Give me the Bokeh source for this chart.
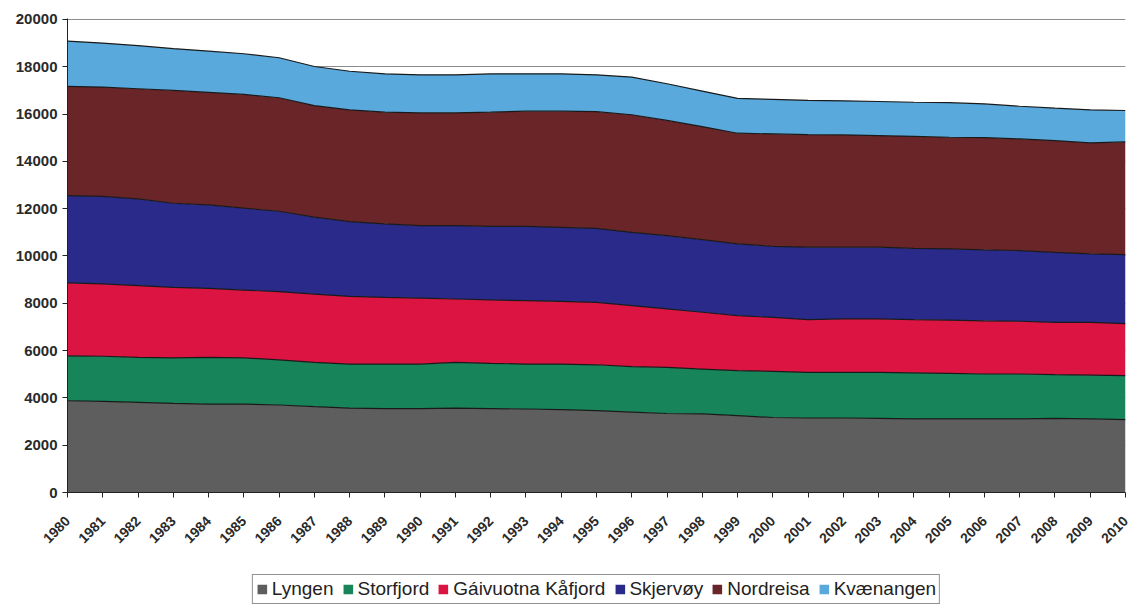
from math import pi
from bokeh.plotting import figure
from bokeh.layouts import column
from bokeh.models import ColumnDataSource, Legend, LegendItem, FixedTicker, Range1d
from bokeh.transform import stack
from bokeh.embed import file_html
from bokeh.resources import INLINE

years = list(range(1980, 2011))
series_names = ["Lyngen", "Storfjord", "Gáivuotna Kåfjord", "Skjervøy", "Nordreisa", "Kvænangen"]

lyngen = [3880, 3850, 3810, 3770, 3740, 3740, 3700, 3630, 3570, 3550, 3550, 3570, 3550, 3530, 3500, 3460,
          3400, 3340, 3320, 3250, 3170, 3150, 3150, 3130, 3110, 3110, 3110, 3110, 3130, 3110, 3080]
storfjord = [1900, 1910, 1900, 1920, 1970, 1950, 1910, 1870, 1860, 1880, 1880, 1930, 1910, 1900, 1930, 1940,
             1920, 1950, 1900, 1900, 1950, 1930, 1930, 1950, 1950, 1930, 1900, 1900, 1850, 1850, 1860]
kafjord = [3080, 3060, 3040, 2980, 2920, 2870, 2880, 2890, 2860, 2820, 2790, 2680, 2680, 2680, 2650, 2640,
           2580, 2470, 2400, 2330, 2280, 2230, 2260, 2260, 2250, 2250, 2250, 2230, 2210, 2230, 2200]
skjervoy = [3690, 3700, 3660, 3560, 3530, 3460, 3400, 3250, 3160, 3110, 3060, 3100, 3110, 3140, 3130, 3130,
            3100, 3100, 3070, 3030, 3010, 3060, 3030, 3030, 3010, 3010, 3000, 2990, 2960, 2900, 2920]
nordreisa = [4620, 4620, 4660, 4770, 4760, 4810, 4800, 4720, 4730, 4720, 4770, 4770, 4830, 4870, 4910, 4930,
             4970, 4870, 4780, 4680, 4750, 4760, 4750, 4720, 4740, 4720, 4740, 4720, 4730, 4690, 4760]
kvaenangen = [1910, 1860, 1820, 1770, 1740, 1720, 1690, 1650, 1630, 1620, 1610, 1610, 1620, 1580, 1580, 1560,
              1590, 1550, 1500, 1470, 1460, 1450, 1440, 1440, 1440, 1460, 1430, 1380, 1370, 1400, 1330]

y_ticks = list(range(0, 20001, 2000))
colors = ["#5e5e5e", "#17845a", "#dc1442", "#292a8a", "#6a2528", "#5aa9dd"]
keys = ["lyngen", "storfjord", "kafjord", "skjervoy", "nordreisa", "kvaenangen"]

src = ColumnDataSource(dict(year=years, lyngen=lyngen, storfjord=storfjord, kafjord=kafjord,
                            skjervoy=skjervoy, nordreisa=nordreisa, kvaenangen=kvaenangen))

# ---- main chart ----
p = figure(width=1129, height=552, output_backend="svg", toolbar_location=None,
           x_range=Range1d(1980, 2010), y_range=Range1d(0, 20040),
           min_border_left=67, min_border_right=4, min_border_top=18, min_border_bottom=60)
p.outline_line_color = None
p.background_fill_color = "white"
p.border_fill_color = "white"

p.varea_stack(stackers=keys, x="year", color=colors, source=src)
for i in range(len(keys)):
    p.line(x="year", y=stack(*keys[:i + 1]), source=src, line_color="#1a1a1a", line_width=1.2)

p.xgrid.visible = False
p.ygrid.ticker = FixedTicker(ticks=y_ticks)
p.ygrid.grid_line_color = "#8c8c8c"
p.ygrid.grid_line_width = 1

p.yaxis.ticker = FixedTicker(ticks=y_ticks)
p.xaxis.ticker = FixedTicker(ticks=years)
p.xaxis.major_label_orientation = pi / 4
p.xaxis.major_label_standoff = 21
for ax in (p.xaxis[0], p.yaxis[0]):
    ax.axis_line_color = "#222222"
    ax.axis_line_width = 1
    ax.major_tick_out = 5
    ax.major_tick_in = 0
    ax.minor_tick_out = 0
    ax.minor_tick_in = 0
    ax.major_tick_line_color = "#222222"
    ax.major_label_text_font = "Liberation Sans"
    ax.major_label_text_font_style = "bold"
    ax.major_label_text_color = "#2a2a2a"
p.yaxis.major_label_text_font_size = "15px"
p.xaxis.major_label_text_font_size = "14px"

# ---- legend strip below the chart ----
lf = figure(width=1129, height=56, output_backend="svg", toolbar_location=None,
            x_axis_location=None, y_axis_location=None,
            x_range=Range1d(1980, 2010), y_range=Range1d(0, 20040),
            min_border_left=0, min_border_right=0, min_border_top=0, min_border_bottom=0)
lf.outline_line_color = None
lf.xgrid.visible = False
lf.ygrid.visible = False
leg_areas = lf.varea_stack(stackers=keys, x="year", color=colors, source=src)
for r in leg_areas:
    r.visible = False

legend = Legend(items=[LegendItem(label=n, renderers=[r]) for n, r in zip(series_names, leg_areas)],
                orientation="horizontal", location="bottom_center",
                border_line_color="#222222", border_line_width=1,
                background_fill_color="white", background_fill_alpha=1,
                inactive_fill_alpha=0,
                label_text_font="Liberation Sans", label_text_font_size="19px",
                label_text_color="#222222", label_height=14,
                glyph_width=12, glyph_height=12, label_standoff=4, spacing=8, padding=3, margin=4)
lf.add_layout(legend)

open("out.html", "w").write(file_html(column(p, lf), INLINE))
